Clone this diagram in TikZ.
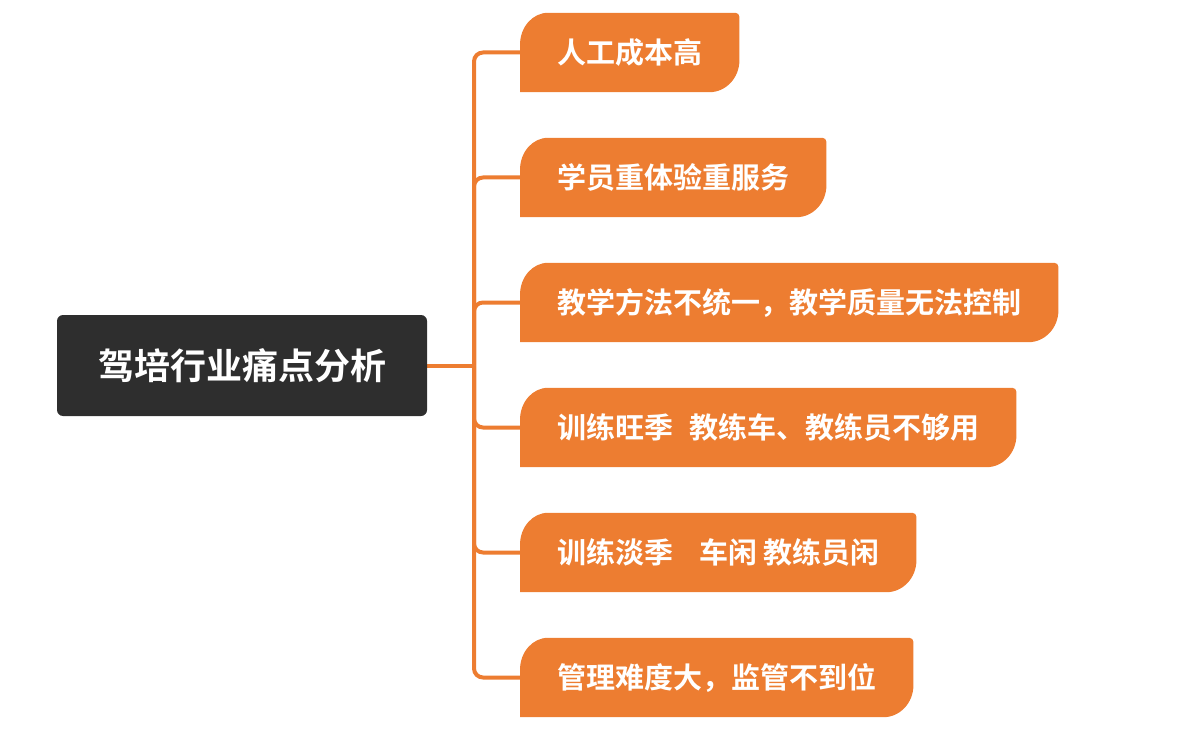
\documentclass[tikz,border=0pt]{standalone}
\usepackage{fontspec}
\setmainfont{Noto Sans CJK SC}[BoldFont={Noto Sans CJK SC Bold}]
\usetikzlibrary{calc,backgrounds}
\definecolor{leafc}{HTML}{ED7D31}
\definecolor{linec}{HTML}{ED7D31}
\definecolor{rootc}{HTML}{2E2E2E}
\tikzset{
  rootbox/.style={fill=rootc, rounded corners=6pt, minimum width=370pt, minimum height=101pt,
    text=white, font=\fontsize{36}{40}\selectfont\bfseries, inner sep=0pt},
  leafbox/.style={anchor=west, minimum height=79pt, inner xsep=37pt, inner ysep=0pt,
    text=white, font=\fontsize{29}{33}\selectfont\bfseries},
  conn/.style={draw=linec, line width=4pt, rounded corners=9pt}
}
\newcommand\leafbg[1]{%
  \fill[leafc] (#1.south west) -- ($(#1.north west)+(0,-32)$)
    arc[start angle=180, end angle=90, x radius=28pt, y radius=32pt]
    -- ($(#1.north east)+(-4,0)$)
    arc[start angle=90, end angle=0, radius=4pt]
    -- ($(#1.south east)+(0,32)$)
    arc[start angle=0, end angle=-90, x radius=30pt, y radius=32pt]
    -- cycle;}
\begin{document}
\begin{tikzpicture}[x=1pt,y=1pt]
\useasboundingbox (0,0) rectangle (1183,-730);
\node[rootbox] (root) at (242,-365.5) {驾培行业痛点分析};
\coordinate (trunk) at (474,-365.5);
\node[leafbox] (l1) at (520,-52.5) {人工成本高};
\node[leafbox] (l2) at (520,-177.5) {学员重体验重服务};
\node[leafbox] (l3) at (520,-302.5) {教学方法不统一，教学质量无法控制};
\node[leafbox] (l4) at (520,-427.5) {训练旺季\hspace{16pt}教练车、教练员不够用};
\node[leafbox] (l5) at (520,-552.5) {训练淡季\hspace{26pt}车闲\hspace{6pt}教练员闲};
\node[leafbox] (l6) at (520,-677.5) {管理难度大，监管不到位};
\begin{pgfonlayer}{background}
\foreach \n in {l1,l2,l3,l4,l5,l6}{\leafbg{\n}}
\draw[conn] (root.east) -- (trunk);
\foreach \n in {l1,l2,l3,l4,l5,l6}{
  \draw[conn] (trunk) |- (\n.west);
}
\end{pgfonlayer}
\end{tikzpicture}
\end{document}
